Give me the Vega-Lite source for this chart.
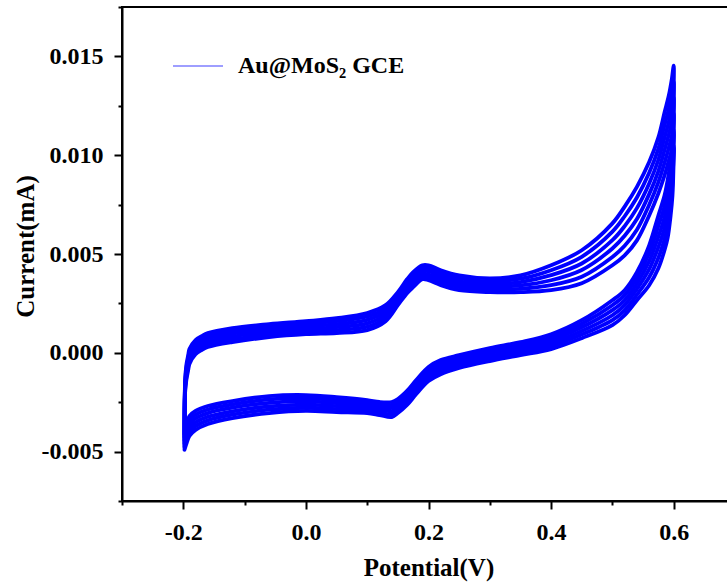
{
"$schema": "https://vega.github.io/schema/vega-lite/v6.json",
"width": 613, "height": 494,
"autosize": {"type": "none"},
"padding": {"left": 122, "top": 7, "right": 0, "bottom": 86},
"background": "white",
"config": {"view": {"stroke": "black", "strokeWidth": 2}, "font": "Liberation Serif"},
"data": {"values": [
{"c":0,"i":0,"x":-0.198,"y":-0.00411},{"c":0,"i":1,"x":-0.197,"y":-0.00138},{"c":0,"i":2,"x":-0.195,"y":-0.00062},{"c":0,"i":3,"x":-0.192,"y":-0.00012},{"c":0,"i":4,"x":-0.19,"y":0.00019},{"c":0,"i":5,"x":-0.18,"y":0.00064},{"c":0,"i":6,"x":-0.17,"y":0.00084},{"c":0,"i":7,"x":-0.16,"y":0.001},{"c":0,"i":8,"x":-0.12,"y":0.00125},{"c":0,"i":9,"x":-0.06,"y":0.00145},{"c":0,"i":10,"x":0,"y":0.0016},{"c":0,"i":11,"x":0.05,"y":0.00175},{"c":0,"i":12,"x":0.1,"y":0.00201},{"c":0,"i":13,"x":0.13,"y":0.00241},{"c":0,"i":14,"x":0.15,"y":0.00307},{"c":0,"i":15,"x":0.165,"y":0.00372},{"c":0,"i":16,"x":0.175,"y":0.00408},{"c":0,"i":17,"x":0.19,"y":0.00443},{"c":0,"i":18,"x":0.2,"y":0.00443},{"c":0,"i":19,"x":0.22,"y":0.00418},{"c":0,"i":20,"x":0.25,"y":0.00392},{"c":0,"i":21,"x":0.3,"y":0.00377},{"c":0,"i":22,"x":0.35,"y":0.00392},{"c":0,"i":23,"x":0.4,"y":0.00443},{"c":0,"i":24,"x":0.45,"y":0.00519},{"c":0,"i":25,"x":0.5,"y":0.00655},{"c":0,"i":26,"x":0.52,"y":0.0074},{"c":0,"i":27,"x":0.54,"y":0.0084},{"c":0,"i":28,"x":0.56,"y":0.00965},{"c":0,"i":29,"x":0.575,"y":0.0109},{"c":0,"i":30,"x":0.585,"y":0.01216},{"c":0,"i":31,"x":0.592,"y":0.01302},{"c":0,"i":32,"x":0.597,"y":0.01387},{"c":0,"i":33,"x":0.6,"y":0.01453},{"c":0,"i":34,"x":0.5995,"y":0.01276},{"c":0,"i":35,"x":0.598,"y":0.01125},{"c":0,"i":36,"x":0.595,"y":0.00973},{"c":0,"i":37,"x":0.59,"y":0.00872},{"c":0,"i":38,"x":0.585,"y":0.00796},{"c":0,"i":39,"x":0.575,"y":0.00695},{"c":0,"i":40,"x":0.56,"y":0.00544},{"c":0,"i":41,"x":0.54,"y":0.00408},{"c":0,"i":42,"x":0.52,"y":0.00317},{"c":0,"i":43,"x":0.5,"y":0.00266},{"c":0,"i":44,"x":0.45,"y":0.00165},{"c":0,"i":45,"x":0.4,"y":0.00094},{"c":0,"i":46,"x":0.35,"y":0.00054},{"c":0,"i":47,"x":0.3,"y":0.00024},{"c":0,"i":48,"x":0.25,"y":-0.00012},{"c":0,"i":49,"x":0.22,"y":-0.00037},{"c":0,"i":50,"x":0.2,"y":-0.00072},{"c":0,"i":51,"x":0.18,"y":-0.00138},{"c":0,"i":52,"x":0.165,"y":-0.00193},{"c":0,"i":53,"x":0.15,"y":-0.00234},{"c":0,"i":54,"x":0.14,"y":-0.00249},{"c":0,"i":55,"x":0.12,"y":-0.00249},{"c":0,"i":56,"x":0.1,"y":-0.00239},{"c":0,"i":57,"x":0.05,"y":-0.00224},{"c":0,"i":58,"x":0,"y":-0.00214},{"c":0,"i":59,"x":-0.06,"y":-0.00219},{"c":0,"i":60,"x":-0.12,"y":-0.00244},{"c":0,"i":61,"x":-0.16,"y":-0.00269},{"c":0,"i":62,"x":-0.18,"y":-0.00294},{"c":0,"i":63,"x":-0.19,"y":-0.0032},{"c":0,"i":64,"x":-0.195,"y":-0.0036},{"c":0,"i":65,"x":-0.198,"y":-0.00411},
{"c":1,"i":0,"x":-0.198,"y":-0.00427},{"c":1,"i":1,"x":-0.197,"y":-0.0015},{"c":1,"i":2,"x":-0.195,"y":-0.00077},{"c":1,"i":3,"x":-0.192,"y":-0.00027},{"c":1,"i":4,"x":-0.19,"y":0.00004},{"c":1,"i":5,"x":-0.18,"y":0.0005},{"c":1,"i":6,"x":-0.17,"y":0.0007},{"c":1,"i":7,"x":-0.16,"y":0.00086},{"c":1,"i":8,"x":-0.12,"y":0.00111},{"c":1,"i":9,"x":-0.06,"y":0.00132},{"c":1,"i":10,"x":0,"y":0.00147},{"c":1,"i":11,"x":0.05,"y":0.0016},{"c":1,"i":12,"x":0.1,"y":0.00184},{"c":1,"i":13,"x":0.13,"y":0.00225},{"c":1,"i":14,"x":0.15,"y":0.00294},{"c":1,"i":15,"x":0.165,"y":0.00358},{"c":1,"i":16,"x":0.175,"y":0.00393},{"c":1,"i":17,"x":0.19,"y":0.00429},{"c":1,"i":18,"x":0.2,"y":0.00428},{"c":1,"i":19,"x":0.22,"y":0.00403},{"c":1,"i":20,"x":0.25,"y":0.00377},{"c":1,"i":21,"x":0.3,"y":0.00363},{"c":1,"i":22,"x":0.35,"y":0.00375},{"c":1,"i":23,"x":0.4,"y":0.00418},{"c":1,"i":24,"x":0.45,"y":0.00486},{"c":1,"i":25,"x":0.5,"y":0.00613},{"c":1,"i":26,"x":0.52,"y":0.00691},{"c":1,"i":27,"x":0.54,"y":0.00786},{"c":1,"i":28,"x":0.56,"y":0.00911},{"c":1,"i":29,"x":0.575,"y":0.01033},{"c":1,"i":30,"x":0.585,"y":0.01152},{"c":1,"i":31,"x":0.592,"y":0.01236},{"c":1,"i":32,"x":0.597,"y":0.01314},{"c":1,"i":33,"x":0.6,"y":0.01372},{"c":1,"i":34,"x":0.5995,"y":0.01205},{"c":1,"i":35,"x":0.598,"y":0.01059},{"c":1,"i":36,"x":0.595,"y":0.00917},{"c":1,"i":37,"x":0.59,"y":0.00813},{"c":1,"i":38,"x":0.585,"y":0.00741},{"c":1,"i":39,"x":0.575,"y":0.00642},{"c":1,"i":40,"x":0.56,"y":0.00504},{"c":1,"i":41,"x":0.54,"y":0.0038},{"c":1,"i":42,"x":0.52,"y":0.00292},{"c":1,"i":43,"x":0.5,"y":0.00241},{"c":1,"i":44,"x":0.45,"y":0.00147},{"c":1,"i":45,"x":0.4,"y":0.00079},{"c":1,"i":46,"x":0.35,"y":0.00041},{"c":1,"i":47,"x":0.3,"y":0.00011},{"c":1,"i":48,"x":0.25,"y":-0.00025},{"c":1,"i":49,"x":0.22,"y":-0.00051},{"c":1,"i":50,"x":0.2,"y":-0.00086},{"c":1,"i":51,"x":0.18,"y":-0.00152},{"c":1,"i":52,"x":0.165,"y":-0.00207},{"c":1,"i":53,"x":0.15,"y":-0.00248},{"c":1,"i":54,"x":0.14,"y":-0.00264},{"c":1,"i":55,"x":0.12,"y":-0.00262},{"c":1,"i":56,"x":0.1,"y":-0.00252},{"c":1,"i":57,"x":0.05,"y":-0.00239},{"c":1,"i":58,"x":0,"y":-0.0023},{"c":1,"i":59,"x":-0.06,"y":-0.00236},{"c":1,"i":60,"x":-0.12,"y":-0.00261},{"c":1,"i":61,"x":-0.16,"y":-0.00287},{"c":1,"i":62,"x":-0.18,"y":-0.00313},{"c":1,"i":63,"x":-0.19,"y":-0.0034},{"c":1,"i":64,"x":-0.195,"y":-0.0038},{"c":1,"i":65,"x":-0.198,"y":-0.00427},
{"c":2,"i":0,"x":-0.198,"y":-0.00443},{"c":2,"i":1,"x":-0.197,"y":-0.00162},{"c":2,"i":2,"x":-0.195,"y":-0.00092},{"c":2,"i":3,"x":-0.192,"y":-0.00042},{"c":2,"i":4,"x":-0.19,"y":-0.00011},{"c":2,"i":5,"x":-0.18,"y":0.00036},{"c":2,"i":6,"x":-0.17,"y":0.00056},{"c":2,"i":7,"x":-0.16,"y":0.00072},{"c":2,"i":8,"x":-0.12,"y":0.00097},{"c":2,"i":9,"x":-0.06,"y":0.00119},{"c":2,"i":10,"x":0,"y":0.00134},{"c":2,"i":11,"x":0.05,"y":0.00145},{"c":2,"i":12,"x":0.1,"y":0.00167},{"c":2,"i":13,"x":0.13,"y":0.00209},{"c":2,"i":14,"x":0.15,"y":0.00281},{"c":2,"i":15,"x":0.165,"y":0.00344},{"c":2,"i":16,"x":0.175,"y":0.00378},{"c":2,"i":17,"x":0.19,"y":0.00415},{"c":2,"i":18,"x":0.2,"y":0.00413},{"c":2,"i":19,"x":0.22,"y":0.00388},{"c":2,"i":20,"x":0.25,"y":0.00362},{"c":2,"i":21,"x":0.3,"y":0.00349},{"c":2,"i":22,"x":0.35,"y":0.00358},{"c":2,"i":23,"x":0.4,"y":0.00393},{"c":2,"i":24,"x":0.45,"y":0.00452},{"c":2,"i":25,"x":0.5,"y":0.0057},{"c":2,"i":26,"x":0.52,"y":0.00641},{"c":2,"i":27,"x":0.54,"y":0.00732},{"c":2,"i":28,"x":0.56,"y":0.00857},{"c":2,"i":29,"x":0.575,"y":0.00977},{"c":2,"i":30,"x":0.585,"y":0.01088},{"c":2,"i":31,"x":0.592,"y":0.0117},{"c":2,"i":32,"x":0.597,"y":0.01242},{"c":2,"i":33,"x":0.6,"y":0.01291},{"c":2,"i":34,"x":0.5995,"y":0.01135},{"c":2,"i":35,"x":0.598,"y":0.00993},{"c":2,"i":36,"x":0.595,"y":0.00862},{"c":2,"i":37,"x":0.59,"y":0.00755},{"c":2,"i":38,"x":0.585,"y":0.00685},{"c":2,"i":39,"x":0.575,"y":0.00588},{"c":2,"i":40,"x":0.56,"y":0.00463},{"c":2,"i":41,"x":0.54,"y":0.00351},{"c":2,"i":42,"x":0.52,"y":0.00266},{"c":2,"i":43,"x":0.5,"y":0.00216},{"c":2,"i":44,"x":0.45,"y":0.00129},{"c":2,"i":45,"x":0.4,"y":0.00064},{"c":2,"i":46,"x":0.35,"y":0.00028},{"c":2,"i":47,"x":0.3,"y":-0.00002},{"c":2,"i":48,"x":0.25,"y":-0.00038},{"c":2,"i":49,"x":0.22,"y":-0.00065},{"c":2,"i":50,"x":0.2,"y":-0.001},{"c":2,"i":51,"x":0.18,"y":-0.00166},{"c":2,"i":52,"x":0.165,"y":-0.00221},{"c":2,"i":53,"x":0.15,"y":-0.00262},{"c":2,"i":54,"x":0.14,"y":-0.00279},{"c":2,"i":55,"x":0.12,"y":-0.00275},{"c":2,"i":56,"x":0.1,"y":-0.00265},{"c":2,"i":57,"x":0.05,"y":-0.00254},{"c":2,"i":58,"x":0,"y":-0.00246},{"c":2,"i":59,"x":-0.06,"y":-0.00253},{"c":2,"i":60,"x":-0.12,"y":-0.00278},{"c":2,"i":61,"x":-0.16,"y":-0.00305},{"c":2,"i":62,"x":-0.18,"y":-0.00332},{"c":2,"i":63,"x":-0.19,"y":-0.0036},{"c":2,"i":64,"x":-0.195,"y":-0.004},{"c":2,"i":65,"x":-0.198,"y":-0.00443},
{"c":3,"i":0,"x":-0.198,"y":-0.00459},{"c":3,"i":1,"x":-0.197,"y":-0.00175},{"c":3,"i":2,"x":-0.195,"y":-0.00108},{"c":3,"i":3,"x":-0.192,"y":-0.00057},{"c":3,"i":4,"x":-0.19,"y":-0.00027},{"c":3,"i":5,"x":-0.18,"y":0.00021},{"c":3,"i":6,"x":-0.17,"y":0.00042},{"c":3,"i":7,"x":-0.16,"y":0.00057},{"c":3,"i":8,"x":-0.12,"y":0.00082},{"c":3,"i":9,"x":-0.06,"y":0.00105},{"c":3,"i":10,"x":0,"y":0.0012},{"c":3,"i":11,"x":0.05,"y":0.0013},{"c":3,"i":12,"x":0.1,"y":0.00149},{"c":3,"i":13,"x":0.13,"y":0.00192},{"c":3,"i":14,"x":0.15,"y":0.00267},{"c":3,"i":15,"x":0.165,"y":0.0033},{"c":3,"i":16,"x":0.175,"y":0.00362},{"c":3,"i":17,"x":0.19,"y":0.004},{"c":3,"i":18,"x":0.2,"y":0.00397},{"c":3,"i":19,"x":0.22,"y":0.00372},{"c":3,"i":20,"x":0.25,"y":0.00347},{"c":3,"i":21,"x":0.3,"y":0.00335},{"c":3,"i":22,"x":0.35,"y":0.00341},{"c":3,"i":23,"x":0.4,"y":0.00367},{"c":3,"i":24,"x":0.45,"y":0.00419},{"c":3,"i":25,"x":0.5,"y":0.00528},{"c":3,"i":26,"x":0.52,"y":0.00592},{"c":3,"i":27,"x":0.54,"y":0.00677},{"c":3,"i":28,"x":0.56,"y":0.00803},{"c":3,"i":29,"x":0.575,"y":0.0092},{"c":3,"i":30,"x":0.585,"y":0.01025},{"c":3,"i":31,"x":0.592,"y":0.01105},{"c":3,"i":32,"x":0.597,"y":0.01169},{"c":3,"i":33,"x":0.6,"y":0.01211},{"c":3,"i":34,"x":0.5995,"y":0.01064},{"c":3,"i":35,"x":0.598,"y":0.00928},{"c":3,"i":36,"x":0.595,"y":0.00806},{"c":3,"i":37,"x":0.59,"y":0.00696},{"c":3,"i":38,"x":0.585,"y":0.0063},{"c":3,"i":39,"x":0.575,"y":0.00535},{"c":3,"i":40,"x":0.56,"y":0.00423},{"c":3,"i":41,"x":0.54,"y":0.00323},{"c":3,"i":42,"x":0.52,"y":0.00241},{"c":3,"i":43,"x":0.5,"y":0.0019},{"c":3,"i":44,"x":0.45,"y":0.0011},{"c":3,"i":45,"x":0.4,"y":0.00049},{"c":3,"i":46,"x":0.35,"y":0.00014},{"c":3,"i":47,"x":0.3,"y":-0.00016},{"c":3,"i":48,"x":0.25,"y":-0.00051},{"c":3,"i":49,"x":0.22,"y":-0.0008},{"c":3,"i":50,"x":0.2,"y":-0.00115},{"c":3,"i":51,"x":0.18,"y":-0.00181},{"c":3,"i":52,"x":0.165,"y":-0.00236},{"c":3,"i":53,"x":0.15,"y":-0.00277},{"c":3,"i":54,"x":0.14,"y":-0.00295},{"c":3,"i":55,"x":0.12,"y":-0.00289},{"c":3,"i":56,"x":0.1,"y":-0.00279},{"c":3,"i":57,"x":0.05,"y":-0.0027},{"c":3,"i":58,"x":0,"y":-0.00262},{"c":3,"i":59,"x":-0.06,"y":-0.00271},{"c":3,"i":60,"x":-0.12,"y":-0.00296},{"c":3,"i":61,"x":-0.16,"y":-0.00324},{"c":3,"i":62,"x":-0.18,"y":-0.00352},{"c":3,"i":63,"x":-0.19,"y":-0.00381},{"c":3,"i":64,"x":-0.195,"y":-0.00421},{"c":3,"i":65,"x":-0.198,"y":-0.00459},
{"c":4,"i":0,"x":-0.198,"y":-0.00475},{"c":4,"i":1,"x":-0.197,"y":-0.00187},{"c":4,"i":2,"x":-0.195,"y":-0.00123},{"c":4,"i":3,"x":-0.192,"y":-0.00072},{"c":4,"i":4,"x":-0.19,"y":-0.00042},{"c":4,"i":5,"x":-0.18,"y":0.00007},{"c":4,"i":6,"x":-0.17,"y":0.00028},{"c":4,"i":7,"x":-0.16,"y":0.00043},{"c":4,"i":8,"x":-0.12,"y":0.00068},{"c":4,"i":9,"x":-0.06,"y":0.00092},{"c":4,"i":10,"x":0,"y":0.00107},{"c":4,"i":11,"x":0.05,"y":0.00115},{"c":4,"i":12,"x":0.1,"y":0.00132},{"c":4,"i":13,"x":0.13,"y":0.00176},{"c":4,"i":14,"x":0.15,"y":0.00254},{"c":4,"i":15,"x":0.165,"y":0.00316},{"c":4,"i":16,"x":0.175,"y":0.00347},{"c":4,"i":17,"x":0.19,"y":0.00386},{"c":4,"i":18,"x":0.2,"y":0.00382},{"c":4,"i":19,"x":0.22,"y":0.00357},{"c":4,"i":20,"x":0.25,"y":0.00332},{"c":4,"i":21,"x":0.3,"y":0.00321},{"c":4,"i":22,"x":0.35,"y":0.00324},{"c":4,"i":23,"x":0.4,"y":0.00342},{"c":4,"i":24,"x":0.45,"y":0.00385},{"c":4,"i":25,"x":0.5,"y":0.00485},{"c":4,"i":26,"x":0.52,"y":0.00542},{"c":4,"i":27,"x":0.54,"y":0.00623},{"c":4,"i":28,"x":0.56,"y":0.00749},{"c":4,"i":29,"x":0.575,"y":0.00864},{"c":4,"i":30,"x":0.585,"y":0.00961},{"c":4,"i":31,"x":0.592,"y":0.01039},{"c":4,"i":32,"x":0.597,"y":0.01097},{"c":4,"i":33,"x":0.6,"y":0.0113},{"c":4,"i":34,"x":0.5995,"y":0.00994},{"c":4,"i":35,"x":0.598,"y":0.00862},{"c":4,"i":36,"x":0.595,"y":0.00751},{"c":4,"i":37,"x":0.59,"y":0.00638},{"c":4,"i":38,"x":0.585,"y":0.00574},{"c":4,"i":39,"x":0.575,"y":0.00481},{"c":4,"i":40,"x":0.56,"y":0.00382},{"c":4,"i":41,"x":0.54,"y":0.00294},{"c":4,"i":42,"x":0.52,"y":0.00215},{"c":4,"i":43,"x":0.5,"y":0.00165},{"c":4,"i":44,"x":0.45,"y":0.00092},{"c":4,"i":45,"x":0.4,"y":0.00034},{"c":4,"i":46,"x":0.35,"y":0.00001},{"c":4,"i":47,"x":0.3,"y":-0.00029},{"c":4,"i":48,"x":0.25,"y":-0.00064},{"c":4,"i":49,"x":0.22,"y":-0.00094},{"c":4,"i":50,"x":0.2,"y":-0.00129},{"c":4,"i":51,"x":0.18,"y":-0.00195},{"c":4,"i":52,"x":0.165,"y":-0.0025},{"c":4,"i":53,"x":0.15,"y":-0.00291},{"c":4,"i":54,"x":0.14,"y":-0.0031},{"c":4,"i":55,"x":0.12,"y":-0.00302},{"c":4,"i":56,"x":0.1,"y":-0.00292},{"c":4,"i":57,"x":0.05,"y":-0.00285},{"c":4,"i":58,"x":0,"y":-0.00278},{"c":4,"i":59,"x":-0.06,"y":-0.00288},{"c":4,"i":60,"x":-0.12,"y":-0.00313},{"c":4,"i":61,"x":-0.16,"y":-0.00342},{"c":4,"i":62,"x":-0.18,"y":-0.00371},{"c":4,"i":63,"x":-0.19,"y":-0.00401},{"c":4,"i":64,"x":-0.195,"y":-0.00441},{"c":4,"i":65,"x":-0.198,"y":-0.00475},
{"c":5,"i":0,"x":-0.198,"y":-0.00491},{"c":5,"i":1,"x":-0.197,"y":-0.00199},{"c":5,"i":2,"x":-0.195,"y":-0.00138},{"c":5,"i":3,"x":-0.192,"y":-0.00087},{"c":5,"i":4,"x":-0.19,"y":-0.00057},{"c":5,"i":5,"x":-0.18,"y":-0.00007},{"c":5,"i":6,"x":-0.17,"y":0.00014},{"c":5,"i":7,"x":-0.16,"y":0.00029},{"c":5,"i":8,"x":-0.12,"y":0.00054},{"c":5,"i":9,"x":-0.06,"y":0.00079},{"c":5,"i":10,"x":0,"y":0.00094},{"c":5,"i":11,"x":0.05,"y":0.001},{"c":5,"i":12,"x":0.1,"y":0.00115},{"c":5,"i":13,"x":0.13,"y":0.0016},{"c":5,"i":14,"x":0.15,"y":0.00241},{"c":5,"i":15,"x":0.165,"y":0.00302},{"c":5,"i":16,"x":0.175,"y":0.00332},{"c":5,"i":17,"x":0.19,"y":0.00372},{"c":5,"i":18,"x":0.2,"y":0.00367},{"c":5,"i":19,"x":0.22,"y":0.00342},{"c":5,"i":20,"x":0.25,"y":0.00317},{"c":5,"i":21,"x":0.3,"y":0.00307},{"c":5,"i":22,"x":0.35,"y":0.00307},{"c":5,"i":23,"x":0.4,"y":0.00317},{"c":5,"i":24,"x":0.45,"y":0.00352},{"c":5,"i":25,"x":0.5,"y":0.00443},{"c":5,"i":26,"x":0.52,"y":0.00493},{"c":5,"i":27,"x":0.54,"y":0.00569},{"c":5,"i":28,"x":0.56,"y":0.00695},{"c":5,"i":29,"x":0.575,"y":0.00807},{"c":5,"i":30,"x":0.585,"y":0.00897},{"c":5,"i":31,"x":0.592,"y":0.00973},{"c":5,"i":32,"x":0.597,"y":0.01024},{"c":5,"i":33,"x":0.6,"y":0.01049},{"c":5,"i":34,"x":0.5995,"y":0.00923},{"c":5,"i":35,"x":0.598,"y":0.00796},{"c":5,"i":36,"x":0.595,"y":0.00695},{"c":5,"i":37,"x":0.59,"y":0.00579},{"c":5,"i":38,"x":0.585,"y":0.00519},{"c":5,"i":39,"x":0.575,"y":0.00428},{"c":5,"i":40,"x":0.56,"y":0.00342},{"c":5,"i":41,"x":0.54,"y":0.00266},{"c":5,"i":42,"x":0.52,"y":0.0019},{"c":5,"i":43,"x":0.5,"y":0.0014},{"c":5,"i":44,"x":0.45,"y":0.00074},{"c":5,"i":45,"x":0.4,"y":0.00019},{"c":5,"i":46,"x":0.35,"y":-0.00012},{"c":5,"i":47,"x":0.3,"y":-0.00042},{"c":5,"i":48,"x":0.25,"y":-0.00077},{"c":5,"i":49,"x":0.22,"y":-0.00108},{"c":5,"i":50,"x":0.2,"y":-0.00143},{"c":5,"i":51,"x":0.18,"y":-0.00209},{"c":5,"i":52,"x":0.165,"y":-0.00264},{"c":5,"i":53,"x":0.15,"y":-0.00305},{"c":5,"i":54,"x":0.14,"y":-0.00325},{"c":5,"i":55,"x":0.12,"y":-0.00315},{"c":5,"i":56,"x":0.1,"y":-0.00305},{"c":5,"i":57,"x":0.05,"y":-0.003},{"c":5,"i":58,"x":0,"y":-0.00294},{"c":5,"i":59,"x":-0.06,"y":-0.00305},{"c":5,"i":60,"x":-0.12,"y":-0.0033},{"c":5,"i":61,"x":-0.16,"y":-0.0036},{"c":5,"i":62,"x":-0.18,"y":-0.0039},{"c":5,"i":63,"x":-0.19,"y":-0.00421},{"c":5,"i":64,"x":-0.195,"y":-0.00461},{"c":5,"i":65,"x":-0.198,"y":-0.00491}
]},
"mark": {"type": "line", "strokeWidth": 3.8, "strokeJoin": "round", "strokeCap": "round", "interpolate": "catmull-rom", "clip": true},
"encoding": {
  "x": {"field": "x", "type": "quantitative",
    "scale": {"domain": [-0.3, 0.7], "nice": false, "zero": false},
    "axis": {"title": "Potential(V)", "values": [-0.3,-0.2,-0.1,0,0.1,0.2,0.3,0.4,0.5,0.6,0.7],
      "labelExpr": "round(datum.value*10)%2!=0 ? '' : (datum.value < 0 ? '-' + format(-datum.value,'.1f') : format(datum.value,'.1f'))",
      "tickSize": {"condition": {"test": "round(datum.value*10)%2!=0", "value": 4}, "value": 8},
      "grid": false, "domainColor": "black", "domainWidth": 2, "tickColor": "black", "tickWidth": 2,
      "labelFont": "Liberation Serif", "labelFontSize": 24, "labelFontWeight": "bold", "labelColor": "black",
      "labelPadding": 11, "labelFlush": false, "labelOverlap": false,
      "titleFont": "Liberation Serif", "titleFontSize": 25, "titleFontWeight": "bold", "titleColor": "black",
      "titleBaseline": "top", "titleY": 54}},
  "y": {"field": "y", "type": "quantitative",
    "scale": {"domain": [-0.0075, 0.0175], "nice": false, "zero": false},
    "axis": {"title": "Current(mA)", "values": [-0.0075,-0.005,-0.0025,0,0.0025,0.005,0.0075,0.01,0.0125,0.015,0.0175],
      "labelExpr": "round(datum.value*400)%2!=0 ? '' : (datum.value < 0 ? '-' + format(-datum.value,'.3f') : format(datum.value,'.3f'))",
      "tickSize": {"condition": {"test": "round(datum.value*400)%2!=0", "value": 4}, "value": 8},
      "grid": false, "domainColor": "black", "domainWidth": 2, "tickColor": "black", "tickWidth": 2,
      "labelFont": "Liberation Serif", "labelFontSize": 24, "labelFontWeight": "bold", "labelColor": "black",
      "labelPadding": 11, "labelFlush": false, "labelOverlap": false,
      "titleFont": "Liberation Serif", "titleFontSize": 25, "titleFontWeight": "bold", "titleColor": "black",
      "titleX": -84, "titleY": 239, "titleAlign": "center", "titleBaseline": "bottom", "titleAngle": 270}},
  "detail": {"field": "c", "type": "nominal"},
  "order": {"field": "i", "type": "quantitative"},
  "color": {"datum": "Au@MoS₂ GCE", "scale": {"range": ["#0000ff"]},
    "legend": {"orient": "none", "legendX": 50, "legendY": 33, "title": null, "padding": 0,
      "symbolType": "stroke", "symbolSize": 2500, "symbolStrokeWidth": 1.5, "symbolOpacity": 0.5,
      "labelFont": "Liberation Serif", "labelFontSize": 24, "labelFontWeight": "bold", "labelColor": "black", "labelOffset": 14, "labelLimit": 400}}
}
}
